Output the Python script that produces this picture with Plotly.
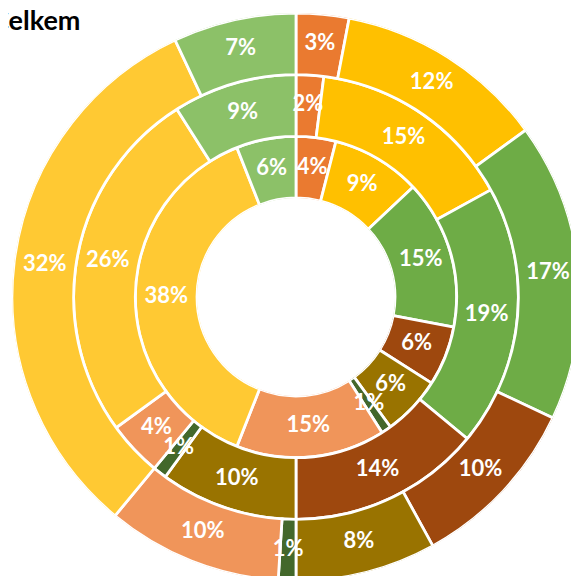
import numpy as np
import plotly.graph_objects as go

W, H = 579, 576

categories = ['A', 'B', 'C', 'D', 'E', 'F', 'G', 'H', 'I']
colors = ['#EA7A30', '#FFC000', '#6EAC46', '#9E480E', '#997300',
          '#43682B', '#F0955A', '#FFC933', '#8CC168']

outer = [3, 12, 17, 10, 8, 1, 10, 32, 7]
middle = [2, 15, 19, 14, 10, 1, 4, 26, 9]
inner = [4, 9, 15, 6, 6, 1, 15, 38, 6]

# chart placement in pixels (the page adds an 8px body margin)
cx, cy, R = 288, 289, 284
hole = 99 / R

fig = go.Figure()
rings = [inner, middle, outer]
for i, vals in enumerate(rings):
    vals = np.array(vals, dtype=float)
    widths = vals / vals.sum() * 360
    mids = np.cumsum(widths) - widths / 2
    fig.add_trace(go.Barpolar(
        r=[1] * len(vals), base=[i] * len(vals), theta=mids, width=widths,
        marker=dict(color=colors, line=dict(color='white', width=2.8)),
        hoverinfo='skip', showlegend=False))

for i, vals in enumerate(rings):
    vals = np.array(vals, dtype=float)
    widths = vals / vals.sum() * 360
    mids = np.cumsum(widths) - widths / 2
    fig.add_trace(go.Scatterpolar(
        r=[i + 0.5] * len(vals), theta=mids, mode='text',
        text=[f'{v:g}%' for v in vals],
        textfont=dict(family='Lato', size=22, color='white', weight='bold'),
        hoverinfo='skip', showlegend=False))

fig.add_annotation(text='Celkem', x=74 / W, y=1.012, xref='paper', yref='paper',
                   xanchor='right', yanchor='top', showarrow=False,
                   font=dict(family='Lato', size=27, color='black', weight='bold'))

fig.update_layout(
    width=W, height=H, margin=dict(l=0, r=0, t=0, b=0),
    paper_bgcolor='white',
    polar=dict(
        domain=dict(x=[(cx - R) / W, (cx + R) / W],
                    y=[1 - (cy + R) / H, 1 - (cy - R) / H]),
        hole=hole, bgcolor='white', bargap=0,
        radialaxis=dict(range=[0, 3], visible=False, showgrid=False),
        angularaxis=dict(rotation=90, direction='clockwise', visible=False,
                         showgrid=False)))

fig.write_html('out.html')
